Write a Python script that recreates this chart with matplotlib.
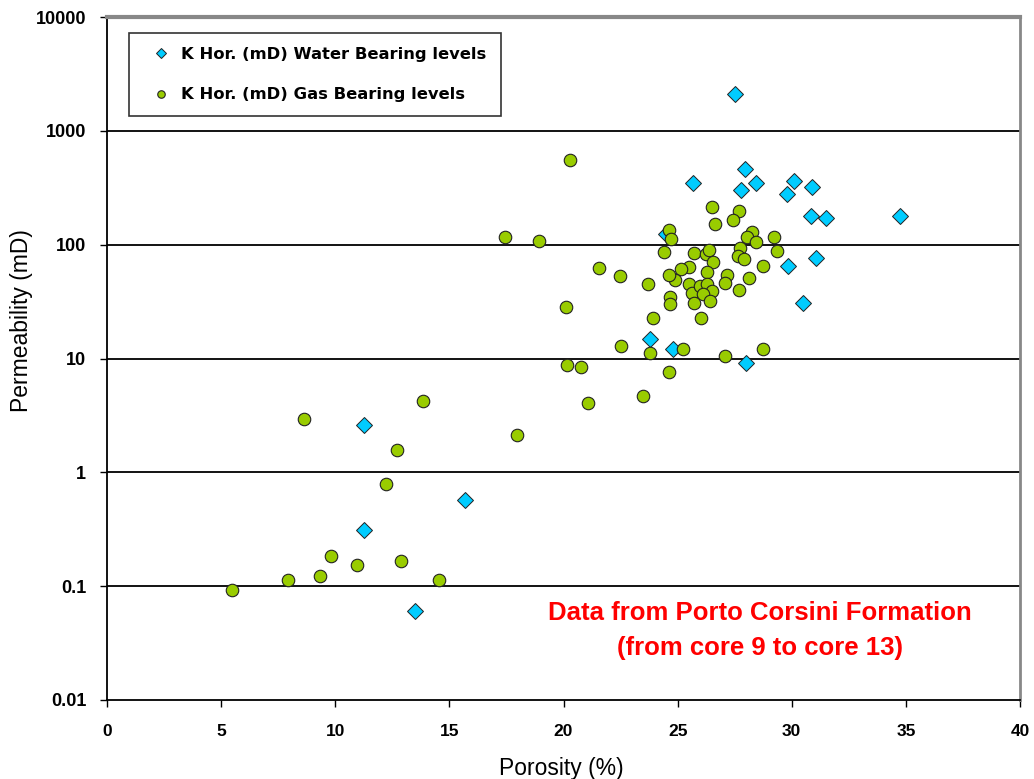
import matplotlib
matplotlib.use("Agg")
import matplotlib.pyplot as plt
from matplotlib.ticker import FixedLocator, FixedFormatter, NullLocator

# ---- data ----
water_x = [27.5, 27.95, 25.69, 28.42, 27.76, 30.11, 30.9, 29.77, 30.84, 31.5,
           34.74, 31.06, 29.84, 30.48, 23.79, 24.78, 28.0, 11.26, 11.26, 15.7,
           13.5, 24.5]
water_y = [2100, 460, 345, 345, 302, 364, 323, 279, 177, 171,
           179, 76, 65, 31, 14.9, 12.1, 9.2, 2.58, 0.31, 0.576,
           0.060, 125]

gas_x = [20.28, 18.91, 17.45, 26.49, 27.69, 27.44, 26.62, 24.61, 24.71, 28.24,
         28.02, 28.42, 29.22, 29.34, 24.42, 25.72, 26.24, 26.39, 26.56, 27.73,
         27.66, 27.92, 28.76, 28.11, 27.69, 21.54, 22.48, 23.71, 25.5, 25.13,
         24.88, 24.64, 26.27, 27.15, 27.09, 25.5, 25.62, 25.98, 26.27, 26.49,
         26.1, 26.43, 25.73, 24.66, 24.66, 23.9, 26.02, 20.1, 22.52, 23.79,
         25.25, 27.09, 28.76, 20.15, 20.77, 24.61, 23.48, 21.06, 17.98, 8.64,
         13.83, 12.7, 12.24, 5.48, 7.92, 9.81, 9.33, 10.94, 12.88, 14.55]
gas_y = [557, 108, 116, 215, 196, 165, 151, 135, 112, 130,
         116, 106, 116, 88.6, 86.3, 84.5, 82.9, 89.9, 70, 93.6,
         78.9, 75, 64.5, 51, 40, 62.4, 53.5, 44.8, 64.1, 61.2,
         49, 54.2, 57.2, 54.2, 45.8, 45.2, 37.7, 43.6, 45.2, 39.4,
         36.9, 32.3, 30.6, 34.5, 30.2, 22.8, 22.8, 28.6, 13, 11.1,
         12.2, 10.5, 12.2, 8.8, 8.5, 7.6, 4.7, 4.09, 2.14, 2.93,
         4.22, 1.58, 0.796, 0.092, 0.113, 0.183, 0.124, 0.153, 0.167, 0.113]

x_ticks = [0, 5, 10, 15, 20, 25, 30, 35, 40]
y_ticks = [0.01, 0.1, 1, 10, 100, 1000, 10000]
y_tick_labels = ["0.01", "0.1", "1", "10", "100", "1000", "10000"]

water_label = "K Hor. (mD) Water Bearing levels"
gas_label = "K Hor. (mD) Gas Bearing levels"
note = "Data from Porto Corsini Formation\n(from core 9 to core 13)"

plt.rcParams['font.family'] = ['Liberation Sans', 'DejaVu Sans']

fig = plt.figure(figsize=(10.34, 7.79), dpi=100)
ax = fig.add_axes([107/1034, 1-700/779, 913/1034, 683/779])

ax.set_yscale('log')
ax.set_xlim(0, 40)
ax.set_ylim(0.01, 10000)

for yv in y_ticks[1:-1]:
    ax.axhline(yv, color='black', lw=1.3, zorder=1)

ax.plot(water_x, water_y, linestyle='none', marker='D', markersize=7.8,
        markerfacecolor='#00CCFF', markeredgecolor='#222222', markeredgewidth=0.7,
        label=water_label, zorder=3)
ax.plot(gas_x, gas_y, linestyle='none', marker='o', markersize=9,
        markerfacecolor='#99CC00', markeredgecolor='#222222', markeredgewidth=0.8,
        label=gas_label, zorder=4)

ax.xaxis.set_major_locator(FixedLocator(x_ticks))
ax.yaxis.set_major_locator(FixedLocator(y_ticks))
ax.yaxis.set_major_formatter(FixedFormatter(y_tick_labels))
ax.yaxis.set_minor_locator(NullLocator())
ax.tick_params(axis='both', direction='out', length=5, width=1)
ax.tick_params(axis='y', labelsize=13, pad=10)
ax.tick_params(axis='x', labelsize=12.5, pad=12)
for lab in ax.get_xticklabels() + ax.get_yticklabels():
    lab.set_fontweight('bold')

ax.spines['left'].set_color('black')
ax.spines['left'].set_linewidth(1.3)
ax.spines['bottom'].set_color('black')
ax.spines['bottom'].set_linewidth(1.3)
ax.spines['top'].set_color('#888888')
ax.spines['top'].set_linewidth(3)
ax.spines['right'].set_color('#888888')
ax.spines['right'].set_linewidth(2)

ax.set_xlabel("Porosity (%)", fontsize=16.5)
ax.xaxis.set_label_coords(0.498, -0.083)
ax.set_ylabel("Permeability (mD)", fontsize=16.5)
ax.yaxis.set_label_coords(-0.081, 0.556)

leg = ax.legend(loc='upper left', bbox_to_anchor=(22/913, 1-16/683),
                prop={'family': 'DejaVu Sans', 'weight': 'bold', 'size': 11.8},
                markerscale=0.6, frameon=True, fancybox=False, handlelength=2.15,
                handletextpad=0.2, borderpad=0.85, labelspacing=1.55,
                borderaxespad=0)
leg.get_frame().set_edgecolor('black')
leg.get_frame().set_linewidth(1.2)

ax.text(0.715, 0.1015, note, transform=ax.transAxes, ha='center', va='center',
        color='#FF0000', fontsize=18.5, fontweight='bold', linespacing=1.6)

fig.savefig("out.png", dpi=100)
